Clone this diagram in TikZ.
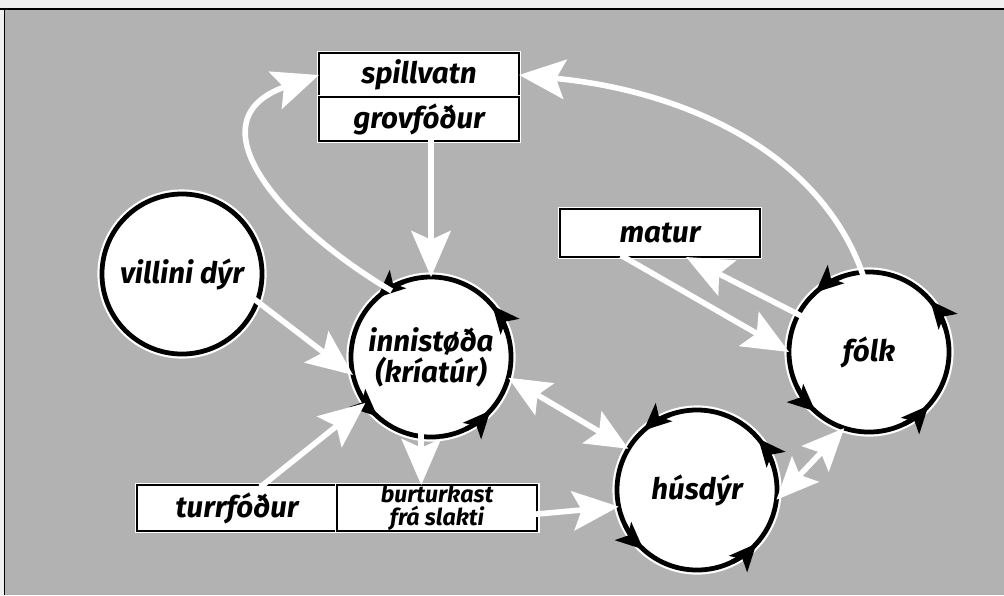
\documentclass[tikz,border=0pt]{standalone}
\usepackage{fontspec}
\setsansfont{Fira Sans}
\usetikzlibrary{arrows.meta,positioning}

\begin{document}
\begin{tikzpicture}[x=0.025cm,y=-0.025cm,
  every node/.style={font=\sffamily\bfseries\itshape\fontsize{21}{18}\selectfont},
  ring/.style={circle, fill=white, draw=black, line width=3.4pt, minimum size=4cm,
    inner sep=0pt, outer sep=0pt, align=center, preaction={draw=white, line width=6.5pt}},
  tag/.style={rectangle, fill=white, draw=black, line width=1.5pt, minimum width=5cm,
    minimum height=1.1cm, inner sep=0pt, outer sep=0pt, align=center,
    preaction={draw=white, line width=3.5pt}},
  flow/.style={draw=white, line width=0.14cm, shorten <=-2.5pt,
    -{Stealth[length=1.15cm,width=0.98cm,inset=0.22cm]}},
  flows/.style={draw=white, line width=0.14cm,
    {Stealth[length=1.05cm,width=0.92cm,inset=0.2cm]}-{Stealth[length=1.05cm,width=0.92cm,inset=0.2cm]}},
  cyc/.style={draw=black, line width=3.4pt, -{Stealth[length=0.68cm,width=0.6cm,inset=0.16cm]}}]
  \newcommand{\spin}[1]{
    \foreach \a in {40,132,228,318}
      \draw[cyc] ([shift={(\a-22:2cm)}]#1.center) arc[start angle=\a-22, end angle=\a, radius=2cm];
  }
  \useasboundingbox (0,0) rectangle (1004,595);
  % background
  \fill[black!6] (0,0) rectangle (1004,595);
  \fill[black!30] (4,9) rectangle (1004,595);
  \draw[line width=1.2pt] (0,9) -- (1004,9);
  \draw[line width=0.5pt] (4,9) -- (4,595);
  % boxes
  \node[tag] (sp) at (419,75) {spillvatn};
  \node[tag, below=0pt of sp] (gr) {grovfóður};
  \node[tag, minimum height=1.2cm] (mat) at (660,233) {matur};
  \node[tag, minimum height=1.15cm] (tur) at (237,508) {turrfóður};
  \node[tag, minimum height=1.15cm, right=0pt of tur,
    font=\sffamily\bfseries\itshape\fontsize{16.5}{16.5}\selectfont] (bur) {burturkast\\frá slakti};
  % circles
  \node[ring] (vil) at (182,274) {villini dýr};
  \node[ring] (inn) at (431,357) {innistøða\\(kríatúr)};
  \node[ring] (fol) at (869,352) {fólk};
  \node[ring] (hus) at (697,490) {húsdýr};
  \spin{inn}
  \spin{fol}
  \spin{hus}
  % flows
  \draw[flow] (gr.south -| inn.north) -- (inn.north);
  \draw[flow] (inn.122) .. controls (280,225) and (190,120) .. (sp.west);
  \draw[flow] (fol.95) .. controls (820,150) and (680,90) .. (sp.east);
  \draw[flow] (vil.-20) -- (inn.193);
  \draw[flow] ([xshift=0.65cm]tur.north) -- (inn.215);
  \draw[flow] (inn.263) -- (inn.263 |- bur.north);
  \draw[flow] ([yshift=-0.15cm]bur.east) -- (hus.192);
  \draw[flow] ([xshift=-0.9cm]mat.south) -- (fol.180);
  \draw[flow] (fol.152) -- ([xshift=0.65cm]mat.south);
  \draw[flows] (inn.-15) -- (hus.149);
  \draw[flows] (hus.-7) -- (fol.252);
\end{tikzpicture}
\end{document}
